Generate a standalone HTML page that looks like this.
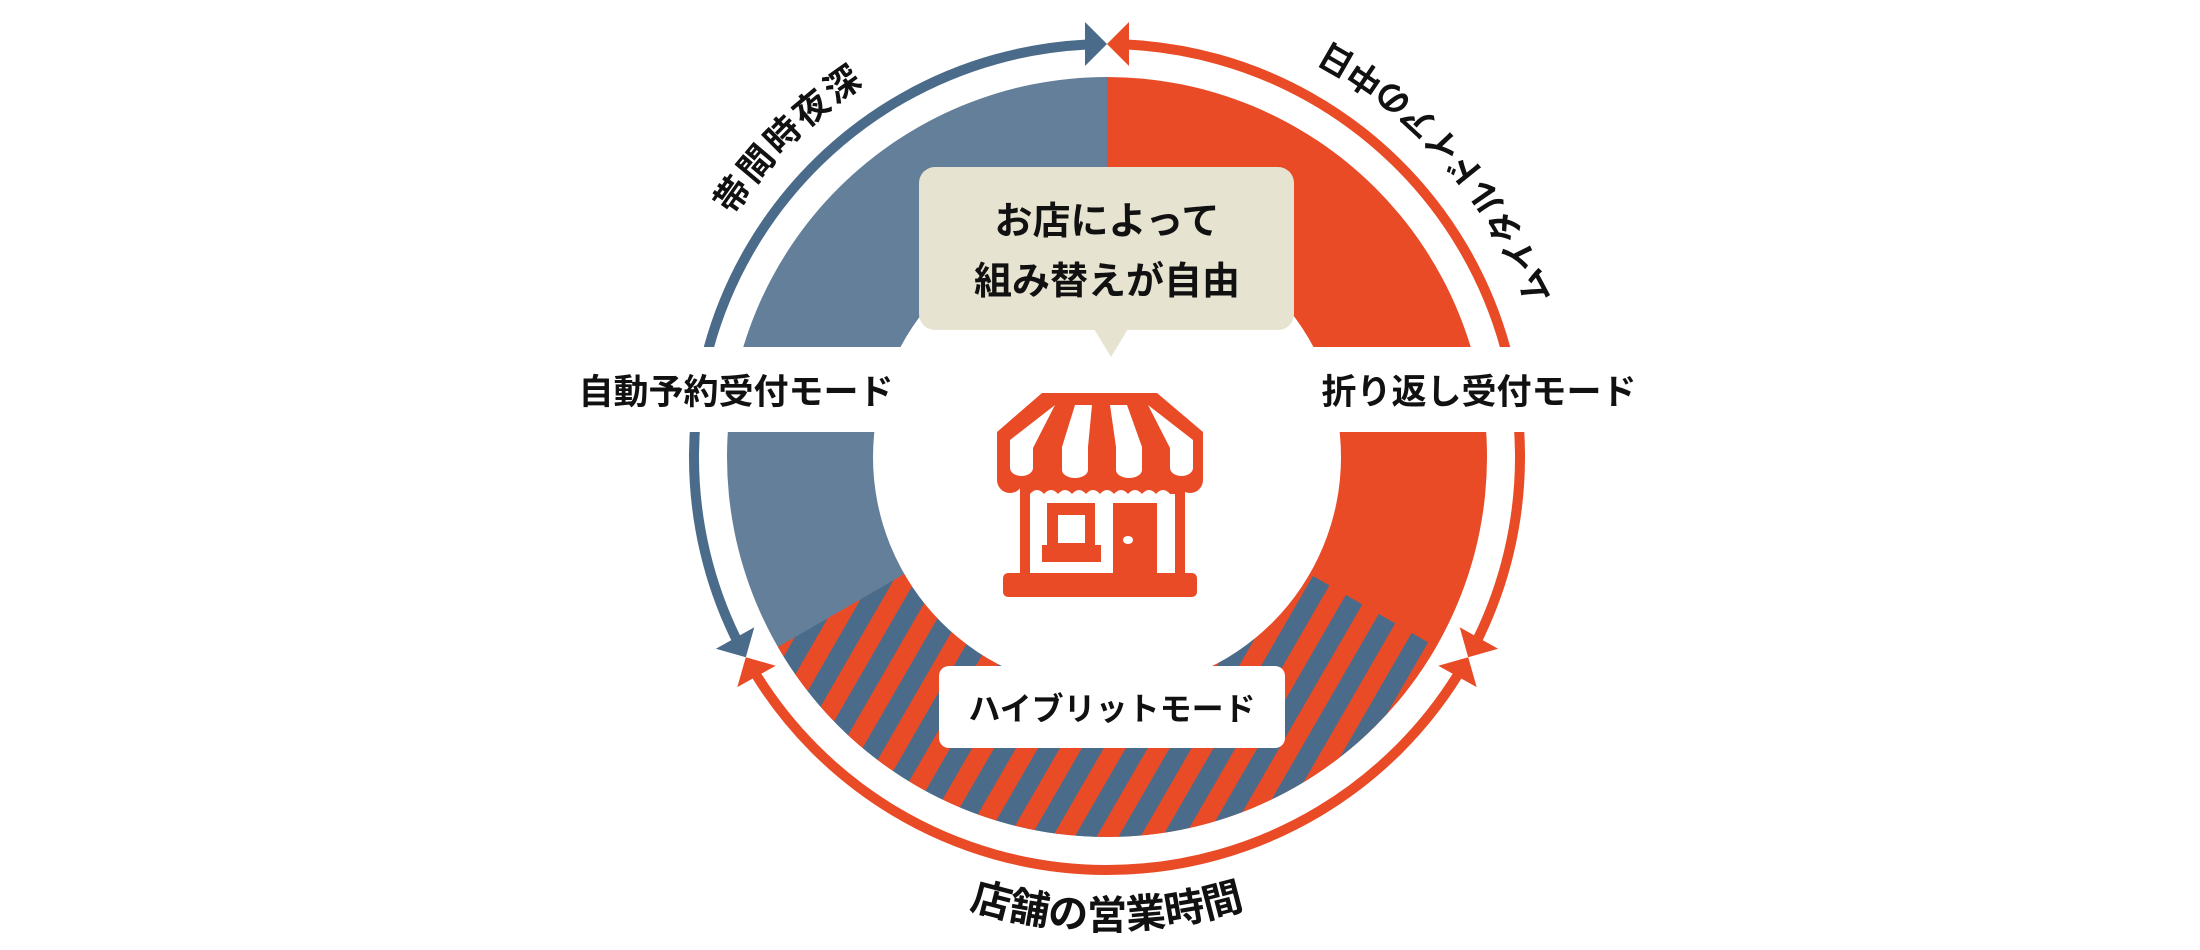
<!DOCTYPE html>
<html><head><meta charset="utf-8"><style>
html,body{margin:0;padding:0;background:#fff;}
svg{display:block}
text{font-family:"Liberation Sans","Noto Sans CJK JP",sans-serif;font-weight:bold;fill:#111;}
</style></head><body>
<svg width="2200" height="950" viewBox="0 0 2200 950" xmlns="http://www.w3.org/2000/svg">
<defs>
<pattern id="st" width="38" height="38" patternUnits="userSpaceOnUse" patternTransform="rotate(30)">
<rect width="38" height="38" fill="#4a6b8a"/><rect width="19" height="38" fill="#e94b26"/>
</pattern>
<path id="pl" d="M 668.8 379.7 A 445 445 0 0 1 1029.7 18.8"/>
<path id="pr" d="M 1576.4 407.7 A 472 472 0 0 0 1221.2 0.9"/>
<path id="pb" d="M 803.6 818.6 A 472 472 0 0 0 1410.4 818.6"/>
</defs>
<!-- pie -->
<path d="M1107 457 L1107 77 A380 380 0 0 0 1107 837 Z" fill="#647f9a"/>
<path d="M1107 457 L1107 77 A380 380 0 0 1 1107 837 Z" fill="#e94b26"/>
<path d="M1436.1 647 A380 380 0 0 1 777.9 647 L1107 457 Z" fill="url(#st)"/>
<circle cx="1107" cy="457" r="234" fill="#fff"/>
<!-- rings -->
<g fill="none" stroke-width="10">
<path d="M1085.4 44.6 A413 413 0 0 0 735.8 638.1" stroke="#4a6b8a"/>
<path d="M1128.6 44.6 A413 413 0 0 1 1478.2 638.1" stroke="#e94b26"/>
<path d="M1457.2 675.9 A413 413 0 0 1 756.8 675.9" stroke="#e94b26"/>
</g>
<polygon points="1107,44 1085,22 1085,66" fill="#4a6b8a"/>
<polygon points="1107,44 1129,22 1129,66" fill="#e94b26"/>
<polygon points="745.8,657.2 754.3,627.3 715.9,648.7" fill="#4a6b8a"/>
<polygon points="745.8,657.2 775.7,665.7 737.3,687.1" fill="#e94b26"/>
<polygon points="1468.2,657.2 1498.1,648.7 1459.7,627.3" fill="#e94b26"/>
<polygon points="1468.2,657.2 1476.7,687.1 1438.3,665.7" fill="#e94b26"/>
<!-- label bands -->
<rect x="560" y="347" width="345" height="85" fill="#fff"/>
<rect x="1310" y="347" width="350" height="85" fill="#fff"/>
<text x="736" y="404" font-size="35" text-anchor="middle">自動予約受付モード</text>
<text x="1479" y="404" font-size="35" text-anchor="middle">折り返し受付モード</text>
<!-- callout -->
<rect x="919" y="167" width="375" height="163" rx="16" fill="#e6e3d1"/>
<polygon points="1094,329 1128,329 1111,357" fill="#e6e3d1"/>
<text x="1107" y="234" font-size="38" text-anchor="middle">お店によって</text>
<text x="1107" y="294" font-size="38" text-anchor="middle">組み替えが自由</text>
<!-- store icon -->
<g fill="#e94b26">
<polygon points="1042,393 1157,393 1203,432 1203,480 997,480 997,432"/>
<circle cx="1010" cy="480" r="13"/><circle cx="1036" cy="480" r="13"/><circle cx="1062" cy="480" r="13"/><circle cx="1088" cy="480" r="13"/><circle cx="1114" cy="480" r="13"/><circle cx="1140" cy="480" r="13"/><circle cx="1166" cy="480" r="13"/><circle cx="1190" cy="480" r="13"/>
<rect x="1020" y="480" width="165" height="100"/>
<rect x="1003" y="573" width="194" height="24" rx="5"/>
</g>
<g fill="#fff">
<path d="M1010 440 L1055 405 L1033 448 L1033 468 A11.5 8 0 0 1 1010 468 Z"/>
<path d="M1075 405 L1092 405 L1088 447 L1088 470 A13 8 0 0 1 1062 470 L1062 447 Z"/>
<path d="M1110 405 L1127 405 L1142 447 L1142 470 A13 8 0 0 1 1116 470 L1116 447 Z"/>
<path d="M1148 405 L1193 440 L1193 468 A11.5 8 0 0 1 1170 468 L1170 448 Z"/>
<path d="M1030 494 Q1037 486 1044 494 Q1051 486 1058 494 Q1065 486 1072 494 Q1079 486 1086 494 Q1093 486 1100 494 Q1107 486 1114 494 Q1121 486 1128 494 Q1135 486 1142 494 Q1149 486 1156 494 Q1163 486 1170 494 L1175 494 L1175 573 L1030 573 Z"/>
</g>
<g fill="#e94b26">
<rect x="1047" y="503" width="48" height="44"/>
<rect x="1042" y="545" width="59" height="17"/>
<rect x="1113" y="503" width="44" height="72"/>
</g>
<rect x="1058" y="515" width="27" height="28" fill="#fff"/>
<ellipse cx="1128" cy="540" rx="5" ry="4" fill="#fff"/>
<!-- hybrid box -->
<rect x="939" y="666" width="346" height="82" rx="10" fill="#fff"/>
<text x="1112" y="720" font-size="32" text-anchor="middle">ハイブリットモード</text>
<!-- curved labels -->
<text font-size="35" letter-spacing="3"><textPath href="#pl" startOffset="50%" text-anchor="middle">帯間時夜深</textPath></text>
<text font-size="34" letter-spacing="1"><textPath href="#pr" startOffset="50%" text-anchor="middle">ムイタルドイアの中日</textPath></text>
<text font-size="40"><textPath href="#pb" startOffset="50%" text-anchor="middle">店舗の営業時間</textPath></text>
</svg>
</body></html>
